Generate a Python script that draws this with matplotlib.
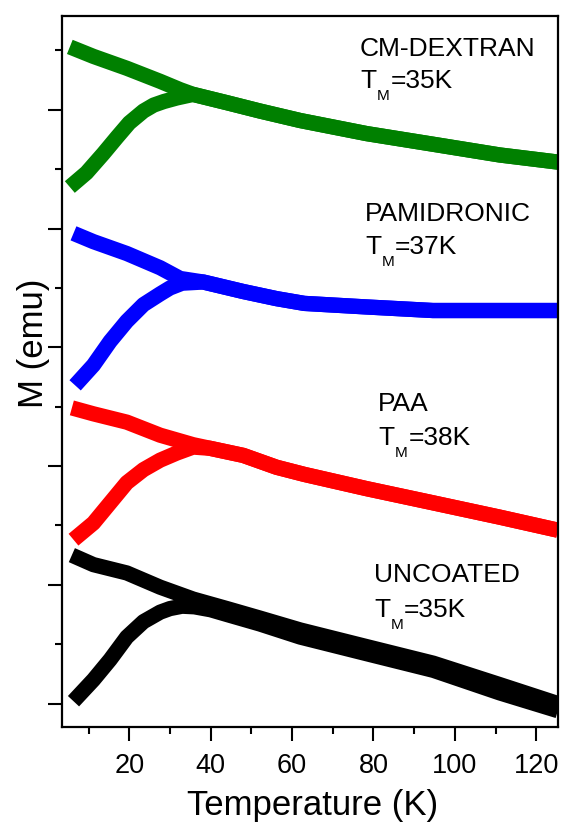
import matplotlib
matplotlib.use('Agg')
import matplotlib.pyplot as plt
from matplotlib.ticker import MultipleLocator

plt.rcParams['font.family'] = ['Liberation Sans', 'DejaVu Sans']

# M (emu) values are in arbitrary offset units (y axis has no labels)
samples = ['UNCOATED', 'PAA', 'PAMIDRONIC', 'CM-DEXTRAN']
t_blocking = ['35K', '38K', '37K', '35K']
colors = ['black', '#ff0000', '#0000ff', '#008000']

# field cooled curves
fc_T = [
    [5.9, 11.2, 19.4, 27.6, 35.7, 44, 52.1, 62, 78.3, 94.7, 111, 125.3],
    [5.9, 11.2, 19.4, 27.6, 35.7, 39.8, 48, 56.2, 63, 78.3, 94.7, 111, 125.3],
    [6.3, 11.2, 19.4, 27.6, 32.5, 38.2, 48, 56.2, 63, 78.3, 94.6, 111, 125.3],
    [5.4, 11.2, 19.4, 27.6, 32.5, 35.7, 44, 52.1, 62, 78.3, 94.7, 111, 125.3],
]
fc_M = [
    [1.25, 1.17, 1.10, 0.98, 0.88, 0.80, 0.72, 0.62, 0.48, 0.34, 0.16, 0.0],
    [2.49, 2.44, 2.37, 2.26, 2.18, 2.15, 2.09, 1.99, 1.93, 1.81, 1.69, 1.57, 1.46],
    [3.96, 3.89, 3.79, 3.67, 3.58, 3.55, 3.47, 3.41, 3.37, 3.34, 3.31, 3.31, 3.31],
    [5.53, 5.45, 5.35, 5.24, 5.17, 5.13, 5.06, 4.99, 4.91, 4.80, 4.71, 4.62, 4.56],
]

# zero field cooled curves
zfc_T = [
    [6.3, 11.2, 15.3, 19.4, 23.5, 27.6, 30, 33, 36, 40, 44, 52.1, 62, 78.3, 94.7, 111, 125.3],
    [6.3, 11.2, 15.3, 19.4, 23.5, 27.6, 31.7, 35.7, 39.8, 48, 56.2, 63, 78.3, 94.7, 111, 125.3],
    [6.7, 11.2, 15.3, 19.4, 23.5, 27.6, 30, 33, 38.2, 48, 56.2, 63, 78.3, 94.6, 111, 125.3],
    [5.4, 9.5, 13.6, 17, 20, 23.5, 26, 28.5, 31.7, 35.7, 44, 52.1, 62, 78.3, 94.7, 111, 125.3],
]
zfc_M = [
    [0.02, 0.20, 0.37, 0.56, 0.69, 0.77, 0.80, 0.82, 0.815, 0.79, 0.75, 0.67, 0.56, 0.42, 0.28, 0.09, -0.06],
    [1.38, 1.52, 1.69, 1.86, 1.97, 2.05, 2.11, 2.16, 2.15, 2.09, 1.99, 1.93, 1.81, 1.69, 1.57, 1.46],
    [2.68, 2.85, 3.05, 3.22, 3.36, 3.45, 3.50, 3.54, 3.55, 3.47, 3.41, 3.37, 3.34, 3.31, 3.31, 3.31],
    [4.35, 4.47, 4.63, 4.77, 4.89, 4.99, 5.04, 5.07, 5.10, 5.13, 5.06, 4.99, 4.91, 4.80, 4.71, 4.62, 4.56],
]

# label anchor (T, M) for the name line and the T_M line
label_x = [80.1, 81.2, 77.9, 76.7]
label_y1 = [1.02, 2.46, 4.06, 5.455]
label_y2 = [0.73, 2.18, 3.79, 5.183]

fig = plt.figure(figsize=(5.63, 8.22), dpi=100)
ax = fig.add_axes([0.111, 0.1159, 0.8806, 0.8646])

for i in range(len(samples)):
    ax.plot(fc_T[i], fc_M[i], color=colors[i], lw=11, solid_capstyle='butt',
            solid_joinstyle='round')
    ax.plot(zfc_T[i], zfc_M[i], color=colors[i], lw=11, solid_capstyle='butt',
            solid_joinstyle='round')

    ax.text(label_x[i], label_y1[i], samples[i], fontsize=19, va='baseline')
    t = ax.text(label_x[i], label_y2[i], 'T', fontsize=19, va='baseline')
    m = ax.annotate('M', xy=(1, 0), xycoords=t, xytext=(0.5, 2.6),
                    textcoords='offset points', fontsize=11, va='top', ha='left')
    ax.annotate('=' + t_blocking[i], xy=(1, 0), xycoords=(m, t), xytext=(0.5, 0),
                textcoords='offset points', fontsize=19, va='bottom', ha='left')

ax.set_xlim(3.6, 125.4)
ax.set_ylim(-0.195, 5.79)

ax.xaxis.set_major_locator(MultipleLocator(20))
ax.xaxis.set_minor_locator(MultipleLocator(10))
ax.yaxis.set_major_locator(MultipleLocator(1))
ax.yaxis.set_minor_locator(MultipleLocator(0.5))

ax.tick_params(which='major', direction='out', length=10, width=1.5,
               labelsize=19.5, pad=9)
ax.tick_params(which='minor', direction='out', length=5, width=1.5)
ax.tick_params(axis='y', which='both', labelleft=False)
for s in ax.spines.values():
    s.set_linewidth(1.6)

ax.set_xlabel('Temperature (K)', fontsize=25)
ax.set_ylabel('M (emu)', fontsize=25)
ax.xaxis.set_label_coords(0.505, -0.0877)
ax.yaxis.set_label_coords(-0.025, 0.54)

plt.savefig('out.png', dpi=100)
